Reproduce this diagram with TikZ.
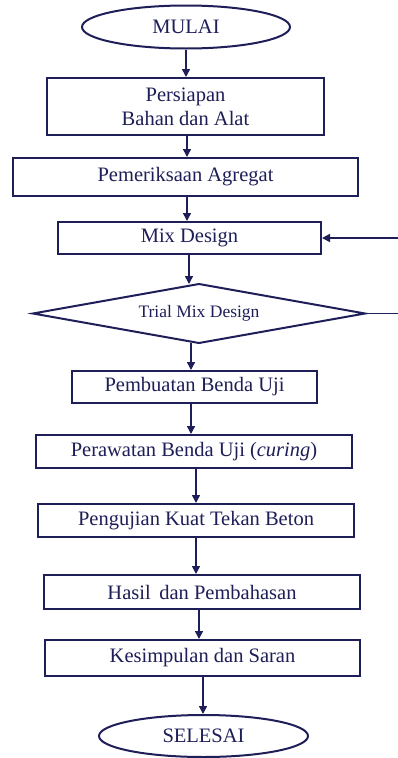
\documentclass[tikz,border=0pt]{standalone}
\usepackage{fontspec}
\setmainfont{Liberation Serif}
\usetikzlibrary{shapes.geometric,arrows.meta}
\definecolor{navy}{RGB}{30,30,88}
\begin{document}
\begin{tikzpicture}[x=1pt,y=1pt,
  every node/.style={text=navy},
  term/.style={ellipse,draw=navy,line width=2pt,minimum width=208pt,minimum height=43pt,inner sep=0pt,font=\fontsize{20.5}{24}\selectfont},
  procbox/.style={rectangle,draw=navy,line width=2pt,inner sep=0pt,font=\fontsize{20.5}{24}\selectfont,align=center},
  decis/.style={diamond,draw=navy,line width=2pt,inner sep=0pt,outer sep=0pt,minimum width=332pt,minimum height=59pt},
  declabel/.style={font=\fontsize{17.5}{20}\selectfont,inner sep=0pt},
  arr/.style={draw=navy,line width=1.6pt,-{Triangle[length=8pt,width=8pt]}},
  plainline/.style={draw=navy,line width=1.6pt}]
\useasboundingbox[fill=white] (0,0) rectangle (397,-758);
\node[term] (mulai) at (186,-27) {MULAI};
\node[procbox,minimum width=277pt,minimum height=57pt] (persiapan) at (185.5,-106.5) {Persiapan\\Bahan dan Alat};
\node[procbox,minimum width=345pt,minimum height=38pt] (periksa) at (185.5,-177) {Pemeriksaan Agregat};
\node[procbox,minimum width=263pt,minimum height=32pt] (mix) at (189.5,-238) {Mix Design};
\node[decis] (trial) at (199,-313.5) {};
\node[declabel] (triallabel) at (trial.center) {Trial Mix Design};
\node[procbox,minimum width=245pt,minimum height=32pt] (buat) at (194.5,-387) {Pembuatan Benda Uji};
\node[procbox,minimum width=316pt,minimum height=33pt] (rawat) at (194,-451.5) {Perawatan Benda Uji (\textit{curing})};
\node[procbox,minimum width=316pt,minimum height=33pt] (uji) at (196,-520.5) {Pengujian Kuat Tekan Beton};
\node[procbox,minimum width=316pt,minimum height=34pt] (hasil) at (202,-592) {Hasil\, dan Pembahasan};
\node[procbox,minimum width=315pt,minimum height=36pt] (simpul) at (202.5,-658) {Kesimpulan dan Saran};
\node[term,minimum width=209pt,minimum height=42pt] (selesai) at (203.5,-736) {SELESAI};
\coordinate (xa) at (186,0);
\coordinate (xb) at (187,0);
\coordinate (xc) at (189,0);
\coordinate (xd) at (191,0);
\coordinate (xe) at (196,0);
\coordinate (xf) at (199,0);
\coordinate (xg) at (203,0);
\coordinate (r1) at (398,-238);
\coordinate (r2) at (398,-313.5);
\draw[arr] (mulai.south -| xa) -- (persiapan.north -| xa);
\draw[arr] (persiapan.south -| xb) -- (periksa.north -| xb);
\draw[arr] (periksa.south -| xb) -- (mix.north -| xb);
\draw[arr] (mix.south -| xc) -- (trial.north -| xc);
\draw[arr] (trial.south -| xd) -- (buat.north -| xd);
\draw[arr] (buat.south -| xd) -- (rawat.north -| xd);
\draw[arr] (rawat.south -| xe) -- (uji.north -| xe);
\draw[arr] (uji.south -| xe) -- (hasil.north -| xe);
\draw[arr] (hasil.south -| xf) -- (simpul.north -| xf);
\draw[arr] (simpul.south -| xg) -- (selesai.north -| xg);
\draw[arr] (r1) -- (mix.east);
\draw[plainline] (trial.east) -- (r2);
\end{tikzpicture}
\end{document}
